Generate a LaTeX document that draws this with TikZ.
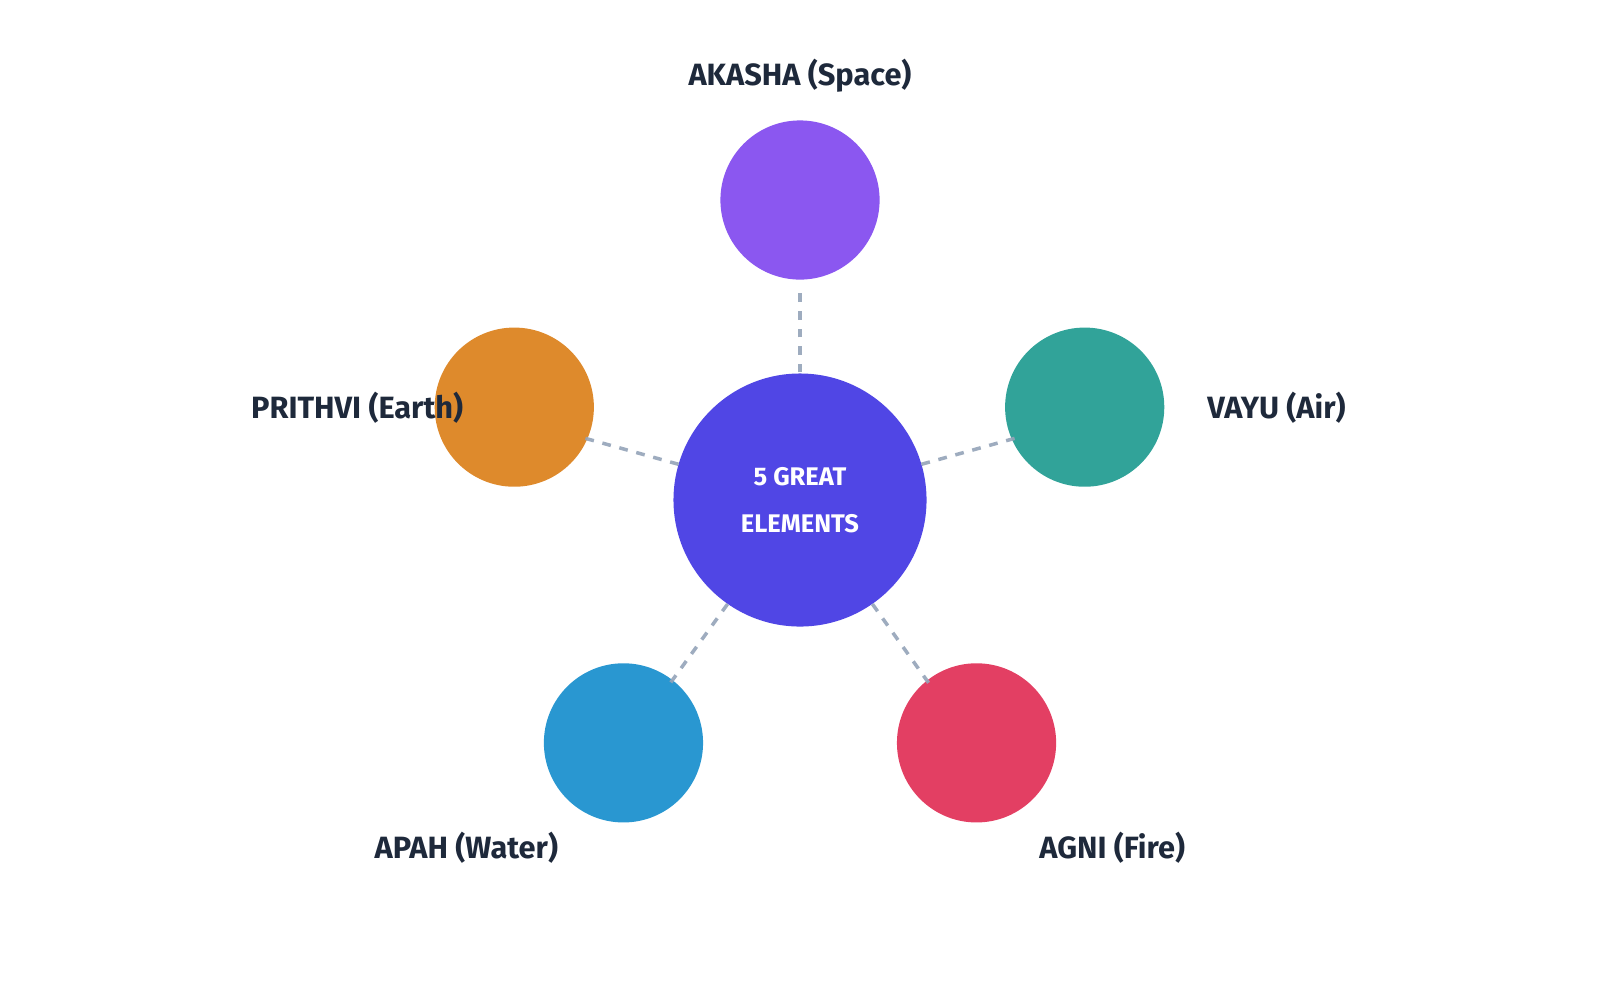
\documentclass[tikz,border=0pt]{standalone}
\usepackage{fontspec}
\setmainfont{Fira Sans}
\begin{document}
\begin{tikzpicture}[x=0.0204082cm,y=-0.0204082cm,
  el/.style={circle,inner sep=0pt,minimum size=156*0.0204082cm},
  lab/.style={text=labc,font=\fontsize{17.5}{21}\selectfont\bfseries},
  con/.style={draw=conc,line width=2pt,dash pattern=on 5pt off 5pt,opacity=0.9}]
\definecolor{labc}{HTML}{1E293B}
\definecolor{conc}{HTML}{94A3B8}
\useasboundingbox (0,0) rectangle (1568,980);
\node[el,fill={rgb,255:red,139;green,87;blue,240}] (ak) at (784,196) {};
\node[el,fill={rgb,255:red,49;green,163;blue,153}] (va) at (1063,399) {};
\node[el,fill={rgb,255:red,227;green,63;blue,99}] (ag) at (957,728) {};
\node[el,fill={rgb,255:red,41;green,151;blue,209}] (ap) at (611,728) {};
\node[el,fill={rgb,255:red,222;green,138;blue,44}] (pr) at (504,399) {};
\node[circle,inner sep=0pt,minimum size=248*0.0204082cm,fill={rgb,255:red,80;green,70;blue,229},
  text=white,font=\fontsize{14.5}{27}\selectfont\bfseries,align=center] (c) at (784,490) {5 GREAT\\ELEMENTS};
\coordinate (a1) at (784,285); \coordinate (a2) at (784,365);
\coordinate (v1) at (903,455); \coordinate (v2) at (1000,428);
\coordinate (g1) at (855,592); \coordinate (g2) at (912,672);
\coordinate (p1) at (713,592); \coordinate (p2) at (655,672);
\coordinate (e1) at (665,455); \coordinate (e2) at (568,428);
\draw[con] (a2)--(a1);
\draw[con] (v1)--(v2);
\draw[con] (g1)--(g2);
\draw[con] (p1)--(p2);
\draw[con] (e1)--(e2);
\node[lab] (lak) at (784,74) {AKASHA (Space)};
\node[lab] (lva) at (1251,400) {VAYU (Air)};
\node[lab] (lag) at (1090,831) {AGNI (Fire)};
\node[lab] (lap) at (457,831) {APAH (Water)};
\node[lab] (lpr) at (350,400) {PRITHVI (Earth)};
\end{tikzpicture}
\end{document}
